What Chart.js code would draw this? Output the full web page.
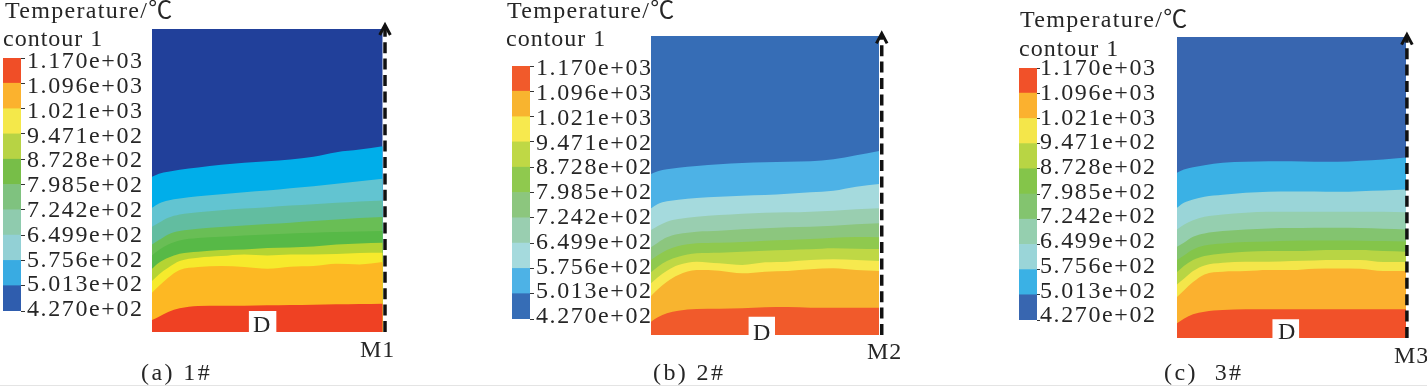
<!DOCTYPE html>
<html><head><meta charset="utf-8">
<script src="https://cdn.jsdelivr.net/npm/chart.js@4/dist/chart.umd.js"></script>
<style>
html,body{margin:0;padding:0;background:#fff;overflow:hidden}
#stage{position:relative;width:1427px;height:386px;overflow:hidden;filter:blur(0.35px)}
canvas{position:absolute;display:block}
.t{position:absolute;font:24px/1 "Liberation Serif","Noto Sans CJK SC",serif;color:#262626;white-space:pre;transform:translateY(-50%)}
#rule{position:absolute;left:0;right:0;top:385px;height:1px;background:#e4e4e4}
</style></head><body><div id="stage"><div id="rule"></div></div>
<script>
// Colour-scale levels
const tickValues = [427, 501.3, 575.6, 649.9, 724.2, 798.5, 872.8, 947.1, 1021, 1096, 1170];
const tickLabels = ["4.270e+02","5.013e+02","5.756e+02","6.499e+02","7.242e+02","7.985e+02","8.728e+02","9.471e+02","1.021e+03","1.096e+03","1.170e+03"];

// Position across the section (fraction of width)
const across = [0,.03,.07,.12,.2,.3,.4,.5,.6,.7,.8,.9,1];

// Depth of each isotherm at the "across" stations, panel (a) 1#
const a1 = [532,523,517,511,504,496,490,485,480,472,458,450,440];
const a2 = [625,612,603,597,590,584,578,573,566,560,553,545,538];
const a3 = [682,670,655,645,638,632,627,623,618,614,610,606,603];
const a4 = [735,722,705,695,688,683,678,674,670,665,660,656,653];
const a5 = [768,752,735,723,716,712,708,705,702,700,698,696,695];
const a6 = [808,790,775,763,757,752,750,746,744,741,735,732,730];
const a7 = [845,825,805,785,775,770,765,768,765,765,764,761,760];
const a8 = [880,860,835,812,803,800,803,808,802,800,793,795,788];
const a9 = [962,952,938,927,920,919,919,918,917,916,915,914,913];

// panel (b) 2#
const b1 = [522,514,508,503,498,493,489,487,485,484,478,466,453];
const b2 = [625,612,604,599,594,590,587,585,581,577,572,560,552];
const b3 = [690,678,665,657,650,645,641,638,637,635,632,628,625];
const b4 = [742,728,712,702,695,692,688,685,682,680,677,673,670];
const b5 = [780,766,750,738,730,728,726,722,720,717,713,711,712];
const b6 = [817,800,783,770,760,758,755,752,750,748,745,746,747];
const b7 = [850,832,812,795,785,790,795,787,785,780,778,780,783];
const b8 = [888,868,845,825,810,812,820,815,813,808,805,810,813];
const b9 = [965,952,940,932,927,926,925,922,921,923,923,923,923];

// panel (c) 3#
const c1 = [520,510,503,497,490,487,485,485,487,487,484,480,474];
const c2 = [625,610,600,592,586,580,577,576,576,577,575,573,570];
const c3 = [690,676,662,652,645,640,637,637,637,637,637,637,638];
const c4 = [742,730,712,702,695,690,687,686,685,685,686,688,690];
const c5 = [782,768,750,738,732,728,726,724,723,723,724,725,726];
const c6 = [818,800,782,770,762,757,755,755,753,752,752,755,757];
const c7 = [855,838,815,798,790,787,787,785,783,782,782,788,788];
const c8 = [893,873,848,825,817,815,812,812,808,807,808,815,815];
const c9 = [972,958,945,937,932,930,930,930,930,930,930,930,930];

// Band colours, coolest first
const fieldA = ["#21409A","#00AEEA","#62C4D1","#62BDA0","#69BE55","#57B947","#B5D433","#F6EA2C","#FDB823","#EF4123"];
const fieldB = ["#366DB6","#4DB2E6","#A5DADD","#99CEB0","#8CC67E","#8FC94E","#BFD845","#F7E94E","#F8B42F","#F15A2B"];
const fieldC = ["#3866B0","#3AB1E5","#9AD5D8","#95CFAF","#83C46F","#84C54A","#B8D544","#F4E64A","#FBB12F","#F15129"];
const barA   = ["#2F5DAE","#39ABE2","#92D0D5","#8FCBAE","#7FC27F","#77BE48","#B7D344","#F4E84A","#FBB22E","#F04E27"];

const font = '"Liberation Serif","Noto Sans CJK SC",serif';
const stage = document.getElementById('stage');

function addCanvas(left, top, w, h){
  const c = document.createElement('canvas');
  c.width = w; c.height = h;
  c.style.left = left+'px'; c.style.top = top+'px';
  c.style.width = w+'px'; c.style.height = h+'px';
  stage.appendChild(c);
  return c;
}
function label(text, x, cy, spacing){
  const s = document.createElement('div');
  s.className = 't'; s.textContent = text;
  s.style.left = x+'px'; s.style.top = cy+'px'; s.style.letterSpacing = spacing+'px';
  stage.appendChild(s);
  return s;
}

const spacingPlugin = {id:'spacing', beforeDraw(chart){ chart.ctx.letterSpacing = '1.6px'; }};

function colorbar(o){
  const pad = 20, axisW = 132;
  const w = o.barW + axisW, h = o.barH + pad*2;
  const c = addCanvas(o.left, o.top-pad, w, h);
  const sets = o.colors.map((col,i)=>({
    data:[[tickValues[i],tickValues[i+1]]], backgroundColor:col, borderWidth:0,
    barPercentage:1, categoryPercentage:1, yAxisID:'y'
  }));
  // The printed labels sit on a slightly tighter spacing than the tick marks.
  const unit = 743/(o.labelBottom-o.labelTop);
  const y2Max = 1170 + (o.labelTop-o.top)*unit;
  const y2Min = 1170 - (o.top+o.barH-o.labelTop)*unit;
  new Chart(c,{
    type:'bar',
    data:{labels:['T'],datasets:sets},
    plugins:[spacingPlugin],
    options:{
      responsive:false,animation:false,
      layout:{padding:{top:pad,bottom:pad,left:0,right:0}},
      plugins:{legend:{display:false},tooltip:{enabled:false}},
      scales:{
        x:{display:false,stacked:true},
        y:{
          position:'right',min:427,max:1170,weight:1,
          border:{display:false},
          grid:{drawOnChartArea:false,drawTicks:true,tickLength:o.tick,color:'#333',lineWidth:1},
          afterFit(s){ s.width = o.tick; },
          afterBuildTicks(s){ s.ticks = tickValues.map(v=>({value:v})); },
          ticks:{display:false,autoSkip:false,padding:0}
        },
        y2:{
          position:'right',min:y2Min,max:y2Max,weight:2,
          border:{display:false},
          grid:{display:false,drawTicks:false},
          afterFit(s){ s.width = axisW-o.tick; },
          afterBuildTicks(s){ s.ticks = tickValues.map(v=>({value:v})); },
          ticks:{
            autoSkip:false,color:'#262626',padding:o.gap,
            font:{family:font,size:24},
            callback:(v,i)=>tickLabels[i]
          }
        }
      }
    }
  });
}

function contour(o){
  const extX = 14, extY = 14, extB = 2;
  const pw = o.W, ph = (o.bottom-o.top)/3;
  const w = Math.round(pw+extX), h = Math.round(ph+extY+extB);
  const c = addCanvas(o.left, Math.round(o.top/3-extY), w, h);
  const pts = arr => arr.map((y,i)=>({x:across[i],y}));
  const plain = {borderWidth:0,pointRadius:0,cubicInterpolationMode:'monotone'};
  const ds = [];
  ds.push({data:[{x:o.mx,y:o.bottom},{x:o.mx,y:o.arrowTop+8}],borderColor:'#111',borderWidth:3.5,borderDash:[11,5.4],pointRadius:0,fill:false});
  const a = 16/(pw*3);
  ds.push({data:[{x:o.mx-a,y:o.arrowTop+30},{x:o.mx,y:o.arrowTop},{x:o.mx+a,y:o.arrowTop+30}],borderColor:'#111',borderWidth:3,pointRadius:0,fill:false});
  ds.push({borderWidth:0,pointRadius:0,data:[{x:o.d0,y:o.bottom},{x:o.d0,y:o.dTop},{x:o.d1,y:o.dTop},{x:o.d1,y:o.bottom}],backgroundColor:'#fff',fill:{value:o.bottom}});
  const lines = o.lines;
  for(let i=lines.length-1;i>=0;i--){
    ds.push({...plain,data:pts(lines[i]),backgroundColor:o.colors[i+1],fill:{value:o.bottom}});
  }
  ds.push({borderWidth:0,pointRadius:0,data:[{x:0,y:o.top},{x:1,y:o.top}],backgroundColor:o.colors[0],fill:{value:o.bottom}});
  new Chart(c,{
    type:'line',
    data:{datasets:ds},
    options:{
      responsive:false,animation:false,
      layout:{padding:0},
      plugins:{legend:{display:false},tooltip:{enabled:false}},
      scales:{
        x:{type:'linear',display:false,min:0,max:w/pw},
        y:{type:'linear',display:false,reverse:true,min:o.top-extY*3,max:o.bottom+extB*3}
      }
    }
  });
}

colorbar({left:3,top:58,barW:18,barH:253,colors:barA,tick:4,gap:2,labelTop:62,labelBottom:310});
colorbar({left:512,top:66,barW:18,barH:253,colors:fieldB,tick:4,gap:2,labelTop:69,labelBottom:317});
colorbar({left:1019,top:68,barW:18,barH:252,colors:fieldC,tick:3,gap:0,labelTop:69,labelBottom:316});

contour({left:152,W:230.7,top:88,bottom:998,lines:[a1,a2,a3,a4,a5,a6,a7,a8,a9],colors:fieldA,mx:1.010,arrowTop:76,d0:.419,d1:.54,dTop:935});
contour({left:651,W:228,top:108,bottom:1005,lines:[b1,b2,b3,b4,b5,b6,b7,b8,b9],colors:fieldB,mx:1.012,arrowTop:100,d0:.427,d1:.544,dTop:950});
contour({left:1177,W:229,top:112,bottom:1016,lines:[c1,c2,c3,c4,c5,c6,c7,c8,c9],colors:fieldC,mx:1.004,arrowTop:105,d0:.416,d1:.534,dTop:960});

label("Temperature/℃",5,10,1.3);
label("contour 1",3,38,1);
label("Temperature/℃",507,10,1.3);
label("contour 1",506,38,1);
label("Temperature/℃",1020,19,1.3);
label("contour 1",1019,48,1);
label("D",253,324,0);
label("D",753,332,0);
label("D",1278,331,0);
label("M1",360,349,1);
label("M2",867,351,1);
label("M3",1394,355,1);
label("(a) 1#",141,372,2.4);
label("(b) 2#",653,372,2.4);
label("(c)  3#",1164,372,2.4);
</script></body></html>
